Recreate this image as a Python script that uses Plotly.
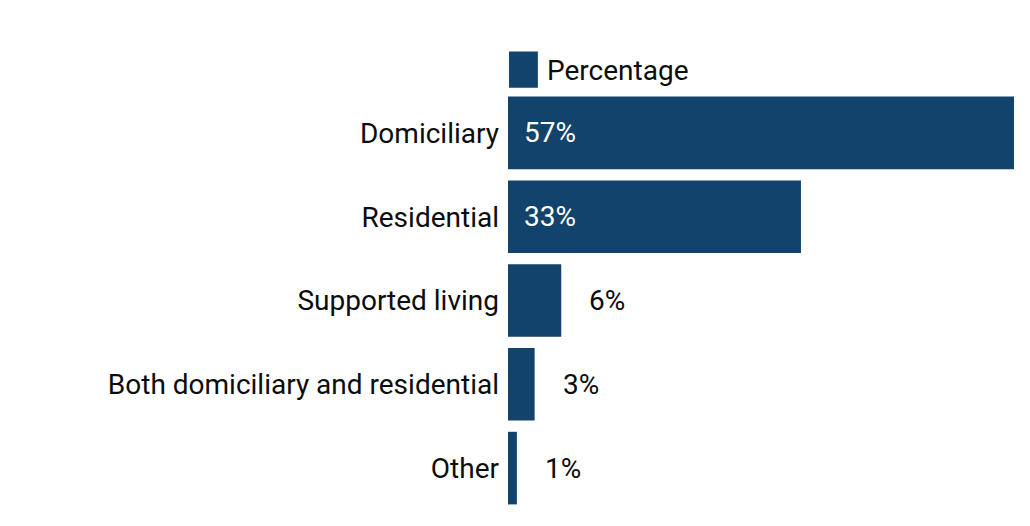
import plotly.graph_objects as go

categories = ["Domiciliary", "Residential", "Supported living",
              "Both domiciliary and residential", "Other"]
values = [57, 33, 6, 3, 1]
value_labels = ["57%", "33%", "6%", "3%", "1%"]
series_name = "Percentage"

BLUE = "#12436D"
TEXT = "#0B0C0C"
FONT = "Roboto, Noto Sans, sans-serif"
FS = 28

fig = go.Figure()
fig.add_trace(go.Bar(
    x=values, y=categories, orientation="h",
    marker=dict(color=BLUE, line=dict(width=0)),
    name=series_name, showlegend=False, hoverinfo="skip",
))

annotations = []
for cat, v, lab in zip(categories, values, value_labels):
    if v >= 10:
        annotations.append(dict(x=0, y=cat, xref="x", yref="y", text=lab,
                                showarrow=False, xanchor="left", xshift=14,
                                font=dict(color="white", size=FS, family=FONT)))
    else:
        annotations.append(dict(x=v, y=cat, xref="x", yref="y", text=lab,
                                showarrow=False, xanchor="left", xshift=26,
                                font=dict(color=TEXT, size=FS, family=FONT)))

# legend drawn as swatch + label
annotations.append(dict(x=0, y=1, xref="paper", yref="paper", text=series_name,
                        showarrow=False, xanchor="left", yanchor="middle",
                        xshift=37, yshift=21,
                        font=dict(color=TEXT, size=FS, family=FONT)))

fig.update_layout(
    width=1022, height=518,
    margin=dict(l=500, r=16, t=83, b=16),
    paper_bgcolor="white", plot_bgcolor="white",
    font=dict(family=FONT, size=FS, color=TEXT),
    bargap=0.134,
    xaxis=dict(range=[0, 57], visible=False, fixedrange=True),
    yaxis=dict(autorange="reversed", showgrid=False, zeroline=False,
               showline=False, ticks="", ticklabelstandoff=8,
               tickfont=dict(size=FS, color=TEXT, family=FONT)),
    annotations=annotations,
    shapes=[dict(type="rect", xref="paper", yref="paper",
                 x0=0.002, x1=0.059, y0=1.0075, y1=1.094,
                 fillcolor=BLUE, line=dict(width=0))],
)

fig.write_html("out.html")
